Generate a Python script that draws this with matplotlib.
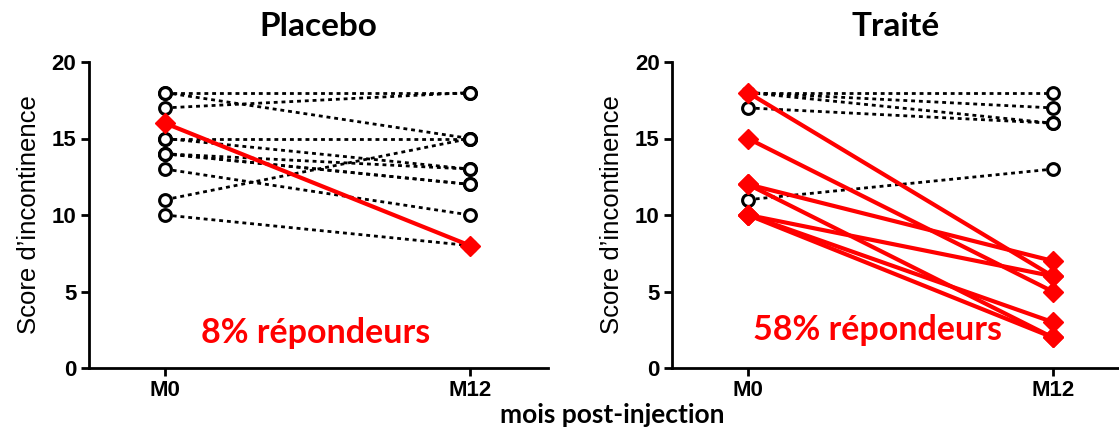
import numpy as np
import matplotlib
matplotlib.use("Agg")
from matplotlib import pyplot as plt

# scores at M0 and M12, one entry per patient
placebo_m0 = [18, 17, 18, 15, 15, 14, 14, 14, 13, 11, 10]
placebo_m12 = [18, 18, 15, 15, 13, 13, 12, 12, 10, 15, 8]
placebo_resp_m0 = [16]
placebo_resp_m12 = [8]

treated_m0 = [18, 18, 18, 17, 11]
treated_m12 = [18, 17, 16, 16, 13]
treated_resp_m0 = [18, 15, 12, 12, 10, 10, 10]
treated_resp_m12 = [6, 5, 7, 2, 6, 3, 2]

timepoints = ["M0", "M12"]
yticks = [0, 5, 10, 15, 20]
titles = ["Placebo", "Traité"]
resp_labels = ["8% répondeurs", "58% répondeurs"]

plt.rcParams['font.family'] = ['Liberation Sans', 'DejaVu Sans']

fig = plt.figure(figsize=(11.19, 4.30), dpi=100)
W, H = 1119.0, 430.0


def make_axes(x0, x1, xm0, xm12):
    # pixel positions -> figure fraction and data limits
    ax = fig.add_axes([x0 / W, (H - 368) / H, (x1 - x0) / W, 306 / H])
    unit = xm12 - xm0
    ax.set_xlim(-(xm0 - x0) / unit, 1 + (x1 - xm12) / unit)
    ax.set_ylim(0, 20)
    for s in ["top", "right"]:
        ax.spines[s].set_visible(False)
    for s in ["left", "bottom"]:
        ax.spines[s].set_linewidth(2)
    ax.set_xticks([0, 1])
    ax.set_xticklabels(timepoints)
    ax.set_yticks(yticks)
    ax.tick_params(width=2, length=6, labelsize=16, pad=3)
    for lab in ax.get_xticklabels() + ax.get_yticklabels():
        lab.set_fontweight("bold")
    ax.set_ylabel("Score d\u2019incontinence", fontsize=18.5, labelpad=8)
    return ax


def draw(ax, m0, m12, r0, r12):
    for a, b in zip(m0, m12):
        ax.plot([0, 1], [a, b], color="black", lw=2, ls=(0, (1.4, 1.4)),
                marker="o", ms=8.5, mfc="white", mec="black", mew=2.2, zorder=2,
                clip_on=False)
    for a, b in zip(r0, r12):
        ax.plot([0, 1], [a, b], color="red", lw=3, marker="D", ms=10.5,
                mfc="red", mec="red", zorder=3, clip_on=False)


ax1 = make_axes(89, 548, 165, 470)
ax2 = make_axes(672, 1119, 748, 1052.7)

draw(ax1, placebo_m0, placebo_m12, placebo_resp_m0, placebo_resp_m12)
draw(ax2, treated_m0, treated_m12, treated_resp_m0, treated_resp_m12)

for ax, t in zip([ax1, ax2], titles):
    ax.set_title(t, fontsize=24, fontweight="bold", family=["Lato", "DejaVu Sans"], pad=19)

ax1.text(0.495, 2.3, resp_labels[0], color="red", fontsize=24.5, fontweight="bold",
         family=["Lato", "DejaVu Sans"], ha="center", va="center")
ax2.text(0.424, 2.5, resp_labels[1], color="red", fontsize=24.5, fontweight="bold",
         family=["Lato", "DejaVu Sans"], ha="center", va="center")

fig.text(612 / W, 1 - 415 / H, "mois post-injection", fontsize=19, fontweight="bold",
         family=["Lato", "DejaVu Sans"], ha="center", va="center")

fig.savefig("out.png", dpi=100)
